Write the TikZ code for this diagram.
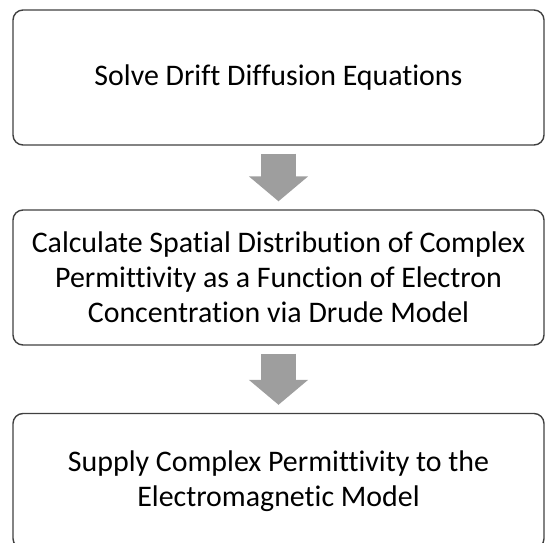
\documentclass[tikz,border=0pt]{standalone}
\usepackage{fontspec}
\setmainfont[Ligatures=NoCommon]{Carlito}
\usepackage{tikz}
\usetikzlibrary{arrows.meta}

\begin{document}
\begin{tikzpicture}[x=1bp,y=1bp,yscale=-1,xscale=1,
    stepbox/.style={draw=black!75, line width=1.4bp, rounded corners=10bp,
        minimum width=531bp, minimum height=135bp, inner sep=0pt,
        align=center, font=\fontsize{30}{35}\selectfont},
    downarrow/.style={line width=35bp, color=black!38,
        -{Triangle[length=25bp,width=58bp]}, shorten <=8bp, shorten >=8bp}]
    %set diagram size to 545 x 543
    \useasboundingbox (0,0) rectangle (545,543);

    % Boxes
    \node [stepbox] (solve) at (278.5,77.5) {Solve Drift Diffusion Equations};
    \node [stepbox] (drude) at (278.5,277.5) {Calculate Spatial Distribution of Complex\\Permittivity as a Function of Electron\\Concentration via Drude Model};
    \node [stepbox] (supply) at (278.5,481) {Supply Complex Permittivity to the\\Electromagnetic Model};

    % Arrows
    \draw [downarrow] (solve.south) -- (drude.north);
    \draw [downarrow] (drude.south) -- (supply.north);

\end{tikzpicture}
\end{document}
